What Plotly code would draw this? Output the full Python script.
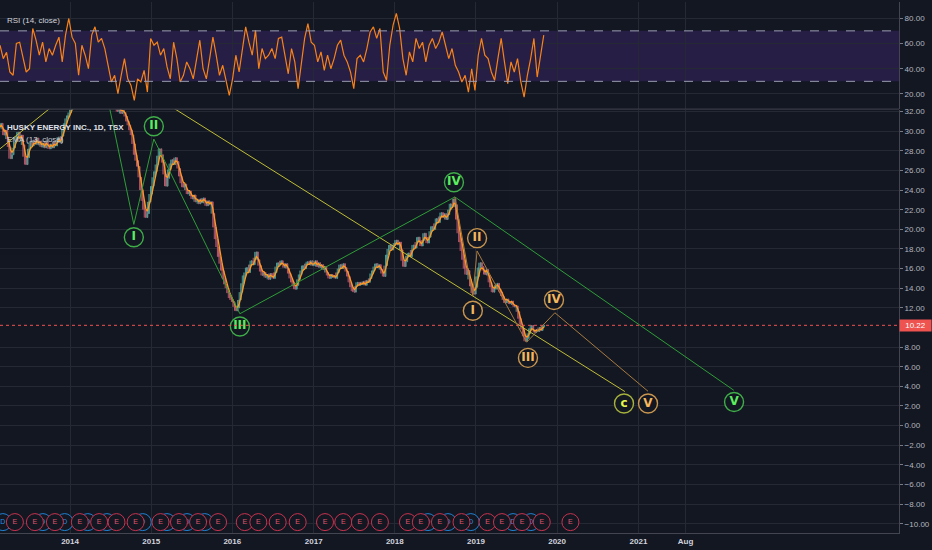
import pandas as pd
import plotly.graph_objects as go

BG = "#131722"
GRID = "#252934"
AXIS = "#434651"

# weekly closes, one list per year (first Monday of each segment)
close_2013 = [30.4, 30.8, 30.2, 29.6, 30.1, 29.2, 28.4, 27.2, 27.6, 28.3, 28.9, 29.5, 29.9, 29.2, 29.6,
              28.6, 27.4, 26.6, 27.3, 28.2, 28.9, 28.5, 29.1, 28.7, 29.3, 28.6, 29.0, 28.4, 28.8, 28.3,
              29.0, 28.5, 28.2, 28.7, 28.3, 28.9, 28.5, 29.0, 29.4, 28.8, 29.5, 30.2, 30.8, 31.3, 31.6, 31.9]
close_2014 = [32.2, 32.8, 32.4, 33.0, 32.6, 33.2, 32.9, 33.5, 33.1, 33.8, 33.4, 34.0, 33.6, 34.2, 34.8,
              34.4, 35.0, 34.6, 35.2, 35.6, 35.1, 35.8, 36.3, 35.9, 36.1, 35.4, 35.0, 34.0, 33.0, 32.3,
              32.0, 32.4, 31.8, 32.1, 31.9, 31.5, 31.0, 30.6, 30.1, 29.6, 28.7, 27.6, 27.0, 26.4, 25.3,
              24.0, 22.9, 22.0, 21.2, 21.6, 22.8, 23.6]
close_2015 = [24.4, 25.3, 25.9, 26.6, 27.5, 28.2, 27.6, 26.8, 25.6, 24.4, 25.2, 26.1, 26.7, 27.1, 26.6,
              27.3, 26.9, 26.2, 25.4, 24.7, 24.3, 24.6, 24.0, 23.6, 23.9, 23.4, 23.1, 23.5, 22.8, 23.0,
              22.6, 23.1, 22.7, 23.2, 22.9, 22.4, 22.9, 22.5, 22.8, 21.6, 20.2, 19.0, 18.2, 17.2, 16.5,
              15.8, 15.0, 14.4, 14.0, 13.5, 13.0, 12.8]
close_2016 = [12.6, 12.1, 11.7, 12.0, 12.8, 13.6, 14.5, 15.3, 15.6, 16.1, 15.6, 16.4, 16.8, 16.4, 17.1,
              17.7, 16.9, 16.3, 15.7, 15.3, 15.6, 15.1, 15.4, 14.9, 15.5, 15.2, 15.0, 15.6, 16.2, 16.6,
              16.4, 16.8, 16.5, 16.1, 16.5, 16.0, 15.5, 15.0, 14.6, 14.2, 13.9, 14.3, 14.9, 15.4, 15.8,
              16.3, 16.0, 16.5, 16.7, 16.4, 16.8, 16.3]
close_2017 = [16.5, 16.8, 16.2, 16.6, 16.1, 16.4, 15.9, 16.2, 15.6, 15.3, 15.0, 15.4, 15.1, 15.3, 15.0,
              15.6, 16.0, 16.4, 16.0, 16.5, 16.1, 15.7, 15.2, 14.6, 14.1, 13.7, 13.6, 14.2, 14.6, 14.3,
              14.6, 14.4, 14.7, 14.3, 14.8, 14.6, 15.0, 15.5, 15.8, 16.2, 16.5, 16.1, 16.4, 15.9, 15.5,
              15.2, 16.3, 17.4, 18.0, 18.4, 17.9, 18.3]
close_2018 = [18.6, 18.9, 18.4, 18.7, 17.9, 16.8, 16.2, 16.7, 17.3, 17.6, 17.2, 17.9, 18.4, 18.1, 18.7,
              19.2, 18.8, 18.3, 18.9, 19.6, 19.1, 18.6, 19.2, 19.8, 20.3, 20.0, 20.6, 21.1, 20.7, 21.3,
              21.7, 21.2, 21.6, 21.0, 21.5, 22.0, 22.6, 22.3, 23.1, 22.5, 21.0, 19.6, 18.7, 17.8, 16.9,
              16.0, 15.4, 15.8, 14.9, 14.2, 13.5, 13.4, 14.1]
close_2019 = [15.2, 16.1, 16.6, 16.2, 15.8, 15.4, 15.9, 15.3, 14.6, 14.1, 13.6, 13.9, 14.3, 14.5, 13.9,
              13.6, 13.2, 12.8, 12.5, 12.9, 12.6, 12.4, 12.7, 12.3, 12.1, 12.2, 11.6, 10.9, 10.3, 9.8,
              9.1, 8.6, 8.9, 9.4, 9.9, 10.2, 9.7, 9.5, 9.8, 9.6, 10.0, 9.7, 10.1, 10.22]
segments = [("2013-02-18", close_2013), ("2014-01-06", close_2014), ("2015-01-05", close_2015),
            ("2016-01-04", close_2016), ("2017-01-02", close_2017), ("2018-01-01", close_2018),
            ("2019-01-07", close_2019)]

rsi = [58.6, 48, 53, 37.4, 34.8, 60, 61, 48, 37.4, 40, 71.9, 62.6, 50.7, 61, 45.4, 56, 50.7, 58.6, 65,
       45.4, 66.6, 79.8, 65, 60, 34.8, 58.6, 50.7, 40, 66.6, 73.2, 61, 64, 56, 42.7, 29.5, 34.8, 20.2,
       34.8, 48, 32, 26.8, 14.9, 32, 29.5, 38.7, 21.5, 64, 58.6, 61, 50.7, 56, 41.4, 32, 61, 48, 29.5,
       34.8, 45.4, 40, 32, 48, 62.6, 40, 32, 48, 65, 50.7, 34.8, 42.7, 32, 18.9, 32, 50.7, 37.4, 56,
       73.2, 61, 50.7, 70.5, 40, 56, 48,
       50.7, 56, 48, 64, 65, 50.7, 36, 56, 45.4, 24.2, 42.7, 64, 75.8, 61, 58.6, 45.4, 53.3, 38.7, 50.7,
       40, 48, 58.6, 62.6, 50.7, 45.4, 37.4, 24.2, 48, 50.7, 45.4, 56, 69.2, 73.2, 64, 71.9, 37.4, 30.8,
       58.6, 74.5, 83.8, 71.9, 48, 34.8, 53.3, 45.4, 64, 56, 61, 45.4, 58.6, 64, 56, 61, 69.2, 58.6, 48,
       56, 42.7, 37.4, 29.5, 34.8, 21.5, 40, 22.8, 50.7, 64, 50.7, 48, 37.4, 30.8, 48, 64, 45.4, 28.2,
       45.4, 37.4, 48, 29.5, 17.5, 34.8, 48, 64, 33.4, 50.7, 66.6]
rsi_start, rsi_end = "2013-02-20", "2019-11-02"

# Elliott wave counts (vertices) and their circled labels
green_dates = ["2014-06-03", "2014-10-15", "2015-01-13", "2016-02-04", "2018-09-28", "2022-03-06"]
green_vals = [35.1, 20.5, 29.2, 11.4, 23.3, 3.6]
green_lbl_dates = ["2014-10-15", "2015-01-13", "2016-02-04", "2018-09-24", "2022-03-07"]
green_lbl_vals = [19.2, 30.5, 10.1, 24.8, 2.4]
green_lbl = ["I", "II", "III", "IV", "V"]

orange_dates = ["2018-09-28", "2018-12-18", "2019-01-06", "2019-08-17", "2019-12-22", "2021-02-13"]
orange_vals = [23.3, 13.2, 17.8, 8.5, 11.5, 3.5]
orange_lbl_dates = ["2018-12-18", "2019-01-06", "2019-08-23", "2019-12-18", "2021-02-13"]
orange_lbl_vals = [11.7, 19.1, 6.9, 12.8, 2.25]
orange_lbl = ["I", "II", "III", "IV", "V"]

yellow_dates = ["2012-10-01", "2014-06-03", "2020-11-01"]
yellow_vals = [25.6, 36.8, 3.47]
yellow_lbl_dates = ["2020-10-28"]
yellow_lbl_vals = [2.25]
yellow_lbl = ["c"]

# earnings (E) and dividends (D) markers along the bottom
earn_dates = ["2013-04-28", "2013-07-27", "2013-10-25", "2014-02-14", "2014-05-12", "2014-07-29",
              "2014-10-23", "2015-02-12", "2015-05-06", "2015-07-31", "2015-10-29", "2016-02-26",
              "2016-04-27", "2016-07-23", "2016-10-21", "2017-02-21", "2017-05-14", "2017-07-28",
              "2017-10-26", "2018-03-01", "2018-04-28", "2018-07-23", "2018-10-28", "2019-02-22",
              "2019-04-28", "2019-07-27", "2019-10-24", "2020-03-01"]
div_dates = ["2013-03-05", "2013-09-01", "2013-12-08", "2014-03-22", "2014-06-16", "2014-11-24",
             "2015-03-13", "2015-06-11", "2015-08-30", "2018-05-30", "2018-08-28", "2018-12-09",
             "2019-06-17", "2019-09-05"]
event_level = -9.83

last_price = 10.22
price_ticks = [-10, -8, -6, -4, -2, 0, 2, 4, 6, 8, 12, 14, 16, 18, 20, 22, 24, 26, 28, 30, 32]
year_ticks = ["2014-01-01", "2015-01-01", "2016-01-01", "2017-01-01", "2018-01-01", "2019-01-01",
              "2020-01-01", "2021-01-01", "2021-08-01"]
year_text = ["2014", "2015", "2016", "2017", "2018", "2019", "2020", "2021", "Aug"]

dates, closes = [], []
for start, vals in segments:
    dates += list(pd.date_range(start, periods=len(vals), freq="W-MON"))
    closes += vals
df = pd.DataFrame({"date": dates, "close": closes})
df["open"] = df["close"].shift(1).fillna(df["close"])
# wicks reach the neighbouring weeks' closes
df["high"] = df["close"].rolling(3, center=True, min_periods=1).max()
df["low"] = df["close"].rolling(3, center=True, min_periods=1).min()
df["ema"] = df["close"].ewm(span=3, adjust=False).mean()

rsi_dates = pd.date_range(rsi_start, rsi_end, periods=len(rsi))

fig = go.Figure()

# RSI pane
fig.add_trace(go.Scatter(x=rsi_dates, y=rsi, xaxis="x2", yaxis="y2", mode="lines",
                         line=dict(color="#f7821b", width=1.2)))

# price pane
fig.add_trace(go.Candlestick(x=df["date"], open=df["open"], high=df["high"], low=df["low"],
                             close=df["close"],
                             increasing=dict(line=dict(color="#5cb3a6", width=1), fillcolor="#5cb3a6"),
                             decreasing=dict(line=dict(color="#d2667a", width=1), fillcolor="#d2667a"),
                             whiskerwidth=0, opacity=0.85))
fig.add_trace(go.Scatter(x=df["date"], y=df["ema"], mode="lines", line=dict(color="#ff9a1f", width=1.3)))


def wave(xs, ys, color, width=1):
    fig.add_trace(go.Scatter(x=xs, y=ys, mode="lines", line=dict(color=color, width=width)))


def labels(xs, ys, txt, ring, tcolor, size=19, fsize=12):
    fig.add_trace(go.Scatter(x=xs, y=ys, mode="markers+text", text=txt, textposition="middle center",
                             marker=dict(symbol="circle", size=size, color=BG,
                                         line=dict(color=ring, width=1.4)),
                             textfont=dict(color=tcolor, size=fsize, family="DejaVu Sans", weight="bold")))


wave(yellow_dates, yellow_vals, "#bfbd36")
wave(green_dates, green_vals, "#2f9e38")
wave(orange_dates, orange_vals, "#a87b40")
labels(green_lbl_dates, green_lbl_vals, green_lbl, "#3fae49", "#5ced5f")
labels(orange_lbl_dates, orange_lbl_vals, orange_lbl, "#c9964f", "#f5b85c")
labels(yellow_lbl_dates, yellow_lbl_vals, yellow_lbl, "#a6b23c", "#e4f74a")

fig.add_trace(go.Scatter(x=div_dates, y=[event_level] * len(div_dates), mode="markers+text", text=["D"] * len(div_dates),
                         textposition="middle center",
                         marker=dict(symbol="circle", size=17, color=BG, line=dict(color="#1f82d2", width=1)),
                         textfont=dict(color="#2a8fe0", size=7, family="Liberation Sans")))
fig.add_trace(go.Scatter(x=earn_dates, y=[event_level] * len(earn_dates), mode="markers+text", text=["E"] * len(earn_dates),
                         textposition="middle center",
                         marker=dict(symbol="circle", size=17, color=BG, line=dict(color="#c9334f", width=1)),
                         textfont=dict(color="#e0546d", size=7, family="Liberation Sans")))

main_top = 425 / 533
rsi_bot = 426 / 533

fig.update_layout(
    width=932, height=550,
    margin=dict(l=0, r=33, t=0, b=17),
    paper_bgcolor=BG, plot_bgcolor=BG,
    showlegend=False,
    font=dict(family="Liberation Sans", color="#b2b5be", size=8),
    xaxis=dict(domain=[0, 1], anchor="y", type="date", range=["2013-02-20", "2024-03-18"],
               tickvals=year_ticks, ticktext=year_text, showgrid=True, gridcolor=GRID, gridwidth=1,
               showline=True, linecolor=AXIS, zeroline=False, rangeslider=dict(visible=False),
               tickfont=dict(size=8, color="#d1d4dc", weight="bold")),
    xaxis2=dict(domain=[0, 1], anchor="y2", type="date", matches="x", tickvals=year_ticks,
                showticklabels=False, showgrid=True, gridcolor=GRID, zeroline=False),
    yaxis=dict(domain=[0, main_top], anchor="x", side="right", range=[-10.94, 32.2],
               tickvals=price_ticks, tickformat=".2f", showgrid=True, gridcolor=GRID, zeroline=False,
               showline=True, linecolor=AXIS, ticks="outside", ticklen=3, tickcolor="#787b86"),
    yaxis2=dict(domain=[rsi_bot, 1], anchor="x2", side="right", range=[8.4, 92.87],
                tickvals=[20, 40, 60, 80], tickformat=".2f", showgrid=True, gridcolor=GRID,
                zeroline=False, showline=True, linecolor=AXIS, ticks="outside", ticklen=3,
                tickcolor="#787b86"),
)

fig.add_shape(type="rect", xref="paper", yref="y2", x0=0, x1=1, y0=30, y1=70,
              fillcolor="rgba(110,60,190,0.22)", line=dict(width=0), layer="below")
for lvl in (30, 70):
    fig.add_shape(type="line", xref="paper", yref="y2", x0=0, x1=1, y0=lvl, y1=lvl,
                  line=dict(color="#9b9db3", width=1, dash="dash"))
fig.add_shape(type="line", xref="paper", yref="paper", x0=0, x1=1, y0=(main_top + rsi_bot) / 2,
              y1=(main_top + rsi_bot) / 2, line=dict(color=AXIS, width=1))
fig.add_shape(type="line", xref="paper", yref="y", x0=0, x1=1, y0=last_price, y1=last_price,
              line=dict(color="#ef5350", width=1, dash="dot"))

fig.add_annotation(xref="paper", yref="y", x=1, y=last_price, xanchor="left", text=f"{last_price:.2f}",
                   showarrow=False, bgcolor="#ef5350", font=dict(color="#ffffff", size=8), width=29,
                   borderpad=1)
fig.add_annotation(xref="paper", yref="paper", x=5 / 899, y=(533 - 12) / 533, xanchor="left",
                   text="RSI (14, close)", showarrow=False, font=dict(color="#d1d4dc", size=8))
fig.add_annotation(xref="paper", yref="paper", x=5 / 899, y=(533 - 119) / 533, xanchor="left",
                   text="HUSKY ENERGY INC., 1D, TSX", showarrow=False,
                   font=dict(color="#e0e3eb", size=8, weight="bold"))
fig.add_annotation(xref="paper", yref="paper", x=5 / 899, y=(533 - 131) / 533, xanchor="left",
                   text="EMA (13, close)", showarrow=False, font=dict(color="#c8cbd3", size=8))

# drop the default page margin so the figure sits in the window's corner
fig.write_html("out.html", config={"displayModeBar": False},
               post_script="document.body.style.margin='0';"
                           "document.body.style.background='#131722';")
